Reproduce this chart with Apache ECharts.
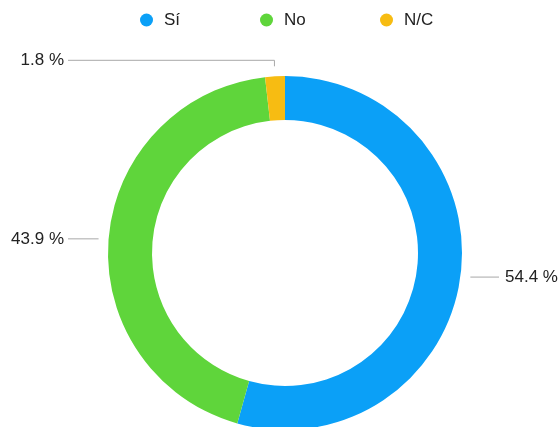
<!DOCTYPE html>
<html>
<head>
<meta charset="utf-8">
<script src="https://cdn.jsdelivr.net/npm/echarts@6/dist/echarts.min.js"></script>
<style>
  html, body { margin: 0; padding: 0; background: #fff; }
  #chart { width: 558px; height: 427px; }
</style>
</head>
<body>
<div id="chart"></div>
<script>
const categories = ['Sí', 'No', 'N/C']
const values = [54.4, 43.9, 1.8]
const colors = ['#0ba0f7', '#5fd53b', '#f7bc12']

const chart = echarts.init(document.getElementById('chart'))

// gap between ring and start of label line
const lineGap = 10

chart.setOption({
  animation: false,
  color: colors,
  textStyle: { fontFamily: 'Liberation Sans, Arial, sans-serif' },
  legend: {
    top: 6,
    left: 135,
    icon: 'circle',
    itemWidth: 13,
    itemHeight: 13,
    itemGap: 14,
    data: categories,
    textStyle: {
      fontSize: 17,
      color: '#222',
      lineHeight: 18,
      width: 82,
      padding: [0, 0, 0, 6],
    },
  },
  series: [
    {
      type: 'pie',
      center: [285, 253],
      radius: [133, 177],
      startAngle: 90,
      clockwise: true,
      avoidLabelOverlap: false,
      data: categories.map((name, i) => ({ name: name, value: values[i] })),
      label: {
        show: true,
        formatter: (p) => p.value.toFixed(1) + ' %',
        fontSize: 17,
        color: '#222',
      },
      labelLine: {
        show: true,
        length: 16,
        length2: 20,
        smooth: false,
        lineStyle: { color: '#a8a8a8', width: 1 },
      },
      labelLayout: function (params) {
        const pts = params.labelLinePoints
        if (!pts) return {}
        const p0 = pts[0]
        const p1 = pts[1]
        const dx = p1[0] - p0[0]
        const dy = p1[1] - p0[1]
        const isLeft = p1[0] < 285
        const endX = isLeft ? 68 : 499
        let linePts, y
        if (Math.abs(dy) > Math.abs(dx)) {
          // near top: short vertical tick, then horizontal
          const len = Math.sqrt(dx * dx + dy * dy) || 1
          const start = [p0[0] + (dx / len) * lineGap, p0[1] + (dy / len) * lineGap]
          y = p1[1]
          linePts = [start, [start[0], y], [endX, y]]
        } else {
          // side: straight horizontal line
          y = p0[1]
          const startX = p0[0] + (dx < 0 ? -lineGap : lineGap)
          linePts = [[startX, y], [startX, y], [endX, y]]
        }
        return {
          x: isLeft ? endX - 4 : endX + 6,
          y: y,
          align: isLeft ? 'right' : 'left',
          verticalAlign: 'middle',
          labelLinePoints: linePts,
        }
      },
      emphasis: { disabled: true },
    },
  ],
})
</script>
</body>
</html>
